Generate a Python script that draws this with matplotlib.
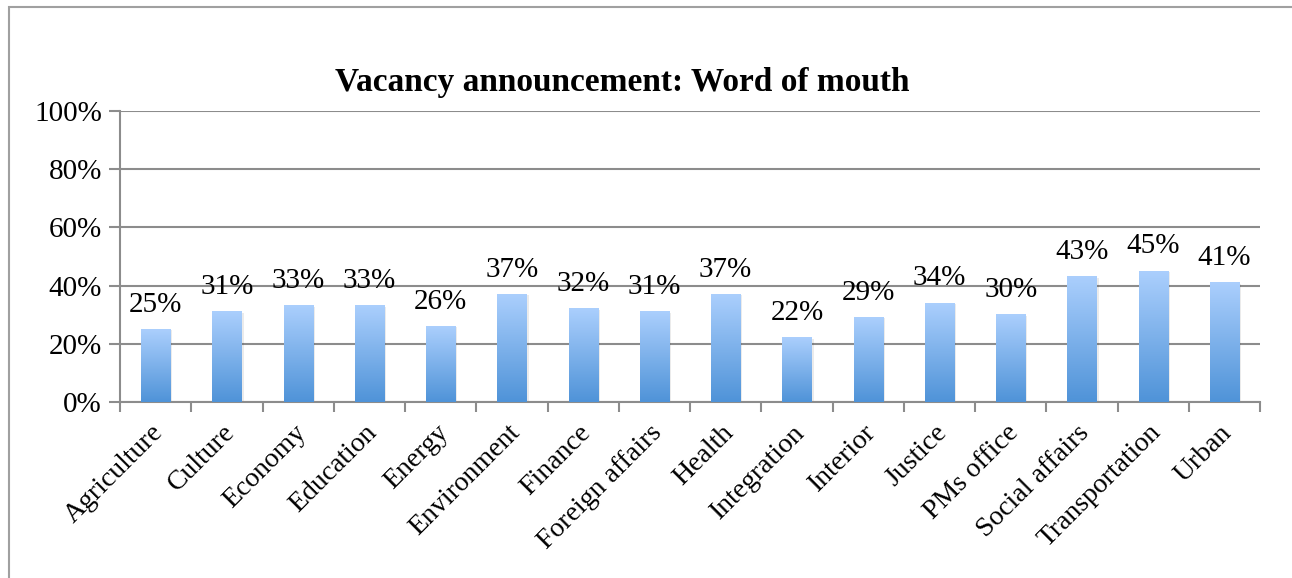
import numpy as np
import matplotlib
matplotlib.use('Agg')
from matplotlib import pyplot as plt
from matplotlib.colors import LinearSegmentedColormap
from matplotlib.patches import Rectangle
from matplotlib.transforms import ScaledTranslation

categories = ['Agriculture', 'Culture', 'Economy', 'Education', 'Energy',
              'Environment', 'Finance', 'Foreign affairs', 'Health',
              'Integration', 'Interior', 'Justice', 'PMs office',
              'Social affairs', 'Transportation', 'Urban']
values = [25, 31, 33, 33, 26, 37, 32, 31, 37, 22, 29, 34, 30, 43, 45, 41]
yticks = [0, 20, 40, 60, 80, 100]
ytick_labels = ['0%', '20%', '40%', '60%', '80%', '100%']

plt.rcParams['font.family'] = ['Liberation Serif', 'DejaVu Serif']

fig = plt.figure(figsize=(12.92, 5.78), dpi=100)
ax = fig.add_axes([0.0929, 0.3045, 0.8824, 0.5035])

# outer frame (only left and top visible in the reference)
fig.patches.append(Rectangle((9 / 1292, -0.1), 1.2, 1 - 7 / 578 + 0.1,
                             transform=fig.transFigure, fill=False,
                             edgecolor='#a0a0a0', linewidth=1.5))

x = np.arange(len(categories))
width = 0.41
cmap = LinearSegmentedColormap.from_list('bar', ['#4f93d8', '#abcffd'])
grad = np.linspace(0, 1, 256).reshape(-1, 1)

bars = ax.bar(x, values, width=width, color='none', zorder=3)
for b, v in zip(bars, values):
    x0 = b.get_x()
    # soft shadow
    ax.add_patch(Rectangle((x0 + 0.03, 0), width, v - 0.3, facecolor='#000000',
                           alpha=0.08, linewidth=0, zorder=2))
    ax.imshow(grad, cmap=cmap, aspect='auto', origin='lower',
              extent=(x0, x0 + width, 0, v), zorder=3, interpolation='bicubic')
    ax.text(b.get_x() + width / 2, v + 4.0, f'{v}%', ha='center', va='bottom',
            fontsize=21)

ax.set_xlim(-0.5, len(categories) - 0.5)
ax.set_ylim(0, 100)
ax.set_yticks(yticks)
ax.set_yticklabels(ytick_labels, fontsize=21)
ax.yaxis.grid(True, color='#8c8c8c', linewidth=1.5, zorder=0)
ax.set_axisbelow(True)

ax.set_xticks(x)
ax.set_xticklabels(categories, rotation=45, ha='right', rotation_mode='anchor',
                   fontsize=20)
ax.tick_params(axis='x', length=0, pad=13)
shift = ScaledTranslation(-5 / 100, 0, fig.dpi_scale_trans)
for lab in ax.get_xticklabels():
    lab.set_transform(lab.get_transform() + shift)
ax.set_xticks(np.arange(-0.5, len(categories)), minor=True)
ax.tick_params(axis='x', which='minor', length=7, width=1.5, color='#8c8c8c')
ax.tick_params(axis='y', length=8, width=1.5, color='#8c8c8c', pad=5)

for s in ['top', 'right']:
    ax.spines[s].set_visible(False)
for s in ['left', 'bottom']:
    ax.spines[s].set_color('#8c8c8c')
    ax.spines[s].set_linewidth(1.5)

fig.text(622 / 1292, 1 - 83 / 578, 'Vacancy announcement: Word of mouth',
         ha='center', va='center', fontsize=24, fontweight='bold')

fig.savefig('out.png', dpi=100)
